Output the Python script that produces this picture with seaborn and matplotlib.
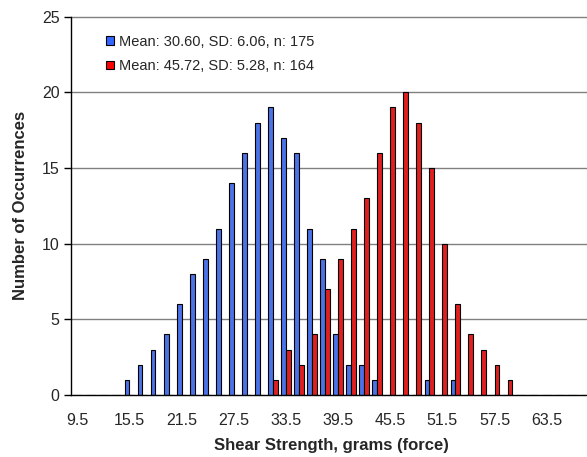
import numpy as np
import pandas as pd
import matplotlib
matplotlib.use("Agg")
import matplotlib.pyplot as plt
import seaborn as sns
from matplotlib.patches import Patch

# ==========================================
# DATOS
# ==========================================
bins = [9.5 + 1.5 * i for i in range(40)]
bin_labels = [f"{b:.1f}" for b in bins]

blue_counts = [0, 0, 0, 0, 1, 2, 3, 4, 6, 8, 9, 11, 14, 16, 18, 19, 17, 16, 11, 9,
               4, 2, 2, 1, 0, 0, 0, 1, 0, 1, 0, 0, 0, 0, 0, 0, 0, 0, 0, 0]
red_counts = [0, 0, 0, 0, 0, 0, 0, 0, 0, 0, 0, 0, 0, 0, 0, 1, 3, 2, 4, 7,
              9, 11, 13, 16, 19, 20, 18, 15, 10, 6, 4, 3, 2, 1, 0, 0, 0, 0, 0, 0]

series_names = ["Mean: 30.60, SD: 6.06, n: 175", "Mean: 45.72, SD: 5.28, n: 164"]
series_colors = ["#3366FF", "#FF0000"]

df = pd.DataFrame({
    "bin": bin_labels * 2,
    "count": blue_counts + red_counts,
    "series": [series_names[0]] * len(bins) + [series_names[1]] * len(bins),
})

# ==========================================
# ESTILO
# ==========================================
sns.set_style("white")
plt.rcParams['font.family'] = ['Liberation Sans', 'DejaVu Sans']

fig = plt.figure(figsize=(5.87, 4.57), dpi=100)
ax = fig.add_axes([70.7 / 587, 62 / 457, 521.6 / 587, 378.4 / 457])

sns.barplot(data=df, x="bin", y="count", hue="series", order=bin_labels,
            hue_order=series_names, palette=series_colors, width=0.72, gap=0,
            edgecolor="black", linewidth=0.8, ax=ax, legend=False, zorder=3)

ax.set_xlim(-0.5, len(bins) - 0.5)
ax.set_ylim(0, 25)

# Rejilla horizontal
ax.set_yticks([0, 5, 10, 15, 20, 25])
for v in [5, 10, 15, 20, 25]:
    ax.axhline(v, color="#808080", linewidth=1.0, zorder=1, clip_on=False)

# Ejes
for s in ["top", "right"]:
    ax.spines[s].set_visible(False)
for s in ["left", "bottom"]:
    ax.spines[s].set_color("black")
    ax.spines[s].set_linewidth(1.0)
    ax.spines[s].set_zorder(4)

# Etiquetas X cada 4 categorías, marcas en los límites de categoría
label_pos = list(range(0, len(bins), 4))
ax.set_xticks(label_pos)
ax.set_xticklabels([bin_labels[i] for i in label_pos])
ax.set_xticks(np.arange(-0.5, len(bins), 1.0), minor=True)
ax.tick_params(axis="x", which="major", length=0, pad=13, labelsize=11.5)
ax.tick_params(axis="x", which="minor", length=4, width=1, color="black", direction="out")
ax.tick_params(axis="y", which="major", length=5, width=1, color="black", direction="out",
               labelsize=11.5, pad=3, left=True)

ax.set_xlabel("Shear Strength, grams (force)", fontsize=12, fontweight="bold", labelpad=7)
ax.set_ylabel("Number of Occurrences", fontsize=12, fontweight="bold", labelpad=10)

handles = [Patch(facecolor=c, edgecolor="black", linewidth=0.8) for c in series_colors]
ax.legend(handles, series_names, loc="upper left", bbox_to_anchor=(0.057, 0.968),
          frameon=False, fontsize=10.5, handlelength=0.5, handleheight=0.5,
          handletextpad=0.35, labelspacing=0.72, borderaxespad=0)

fig.savefig("out.png", dpi=100)
